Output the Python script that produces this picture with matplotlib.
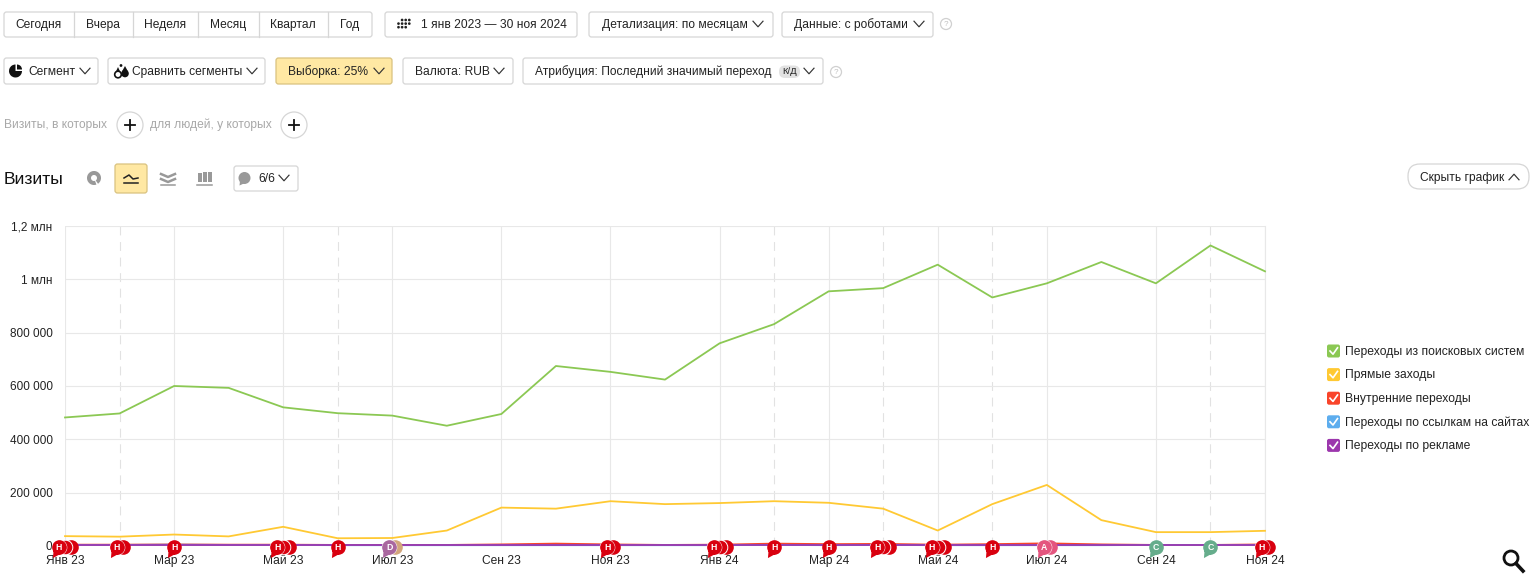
import numpy as np
import matplotlib
matplotlib.use('Agg')
import matplotlib.pyplot as plt
from matplotlib.patches import FancyBboxPatch, Circle, Wedge, Rectangle, Polygon
from matplotlib.path import Path
from matplotlib.markers import MarkerStyle
from matplotlib.transforms import offset_copy

plt.rcParams['font.family'] = ['Liberation Sans', 'DejaVu Sans']

months = ['Янв 23', 'Фев 23', 'Мар 23', 'Апр 23', 'Май 23', 'Июн 23', 'Июл 23', 'Авг 23',
          'Сен 23', 'Окт 23', 'Ноя 23', 'Дек 23', 'Янв 24', 'Фев 24', 'Мар 24', 'Апр 24',
          'Май 24', 'Июн 24', 'Июл 24', 'Авг 24', 'Сен 24', 'Окт 24', 'Ноя 24']
search = [482000, 497000, 600000, 593000, 520000, 498000, 489000, 451000, 495000, 675000, 653000, 624000,
          760000, 832000, 955000, 967000, 1055000, 932000, 985000, 1065000, 985000, 1127000, 1030000]
direct = [37000, 35000, 43000, 36000, 72000, 29000, 30000, 58000, 144000, 140000, 168000, 157000,
          161000, 168000, 162000, 140000, 58000, 157000, 229000, 97000, 52000, 52000, 57000]
internal = [5000, 5000, 6000, 5000, 5000, 4000, 4000, 4000, 6000, 9000, 6000, 4000,
            5000, 9000, 7000, 8000, 5000, 7000, 10000, 6000, 4000, 4000, 6000]
links = [4000, 4000, 5000, 4000, 4000, 3000, 3000, 3000, 3000, 3000, 3000, 3000,
         3000, 4000, 3000, 4000, 3000, 3000, 3000, 3000, 4000, 4000, 4000]
ads = [2000, 2000, 2000, 2000, 2000, 2000, 2000, 2000, 2000, 2000, 2000, 2000,
       2000, 2000, 2000, 2000, 2000, 2000, 2000, 2000, 2000, 2000, 2000]
series_names = ['Переходы из поисковых систем', 'Прямые заходы', 'Внутренние переходы',
                'Переходы по ссылкам на сайтах', 'Переходы по рекламе']
series_colors = ['#8bc853', '#ffc933', '#f9442a', '#5dadee', '#9c37ad']
y_ticks = [0, 200000, 400000, 600000, 800000, 1000000, 1200000]
y_labels = ['0', '200 000', '400 000', '600 000', '800 000', '1 млн', '1,2 млн']
solid_grid = [0, 2, 4, 6, 8, 10, 12, 14, 16, 18, 20, 22]
dashed_grid = [1, 5, 13, 15, 17, 21]
# month, letter, how many stacked, colour of the front one, colour of the back ones
notes = [(0, 'Н', 3, '#d9000f', '#d9000f'), (1, 'Н', 2, '#d9000f', '#d9000f'), (2, 'Н', 1, '#d9000f', '#d9000f'),
         (4, 'Н', 3, '#d9000f', '#d9000f'), (5, 'Н', 1, '#d9000f', '#d9000f'), (6, 'D', 2, '#a9679f', '#d3a67c'),
         (10, 'Н', 2, '#d9000f', '#d9000f'), (12, 'Н', 3, '#d9000f', '#d9000f'), (13, 'Н', 1, '#d9000f', '#d9000f'),
         (14, 'Н', 1, '#d9000f', '#d9000f'), (15, 'Н', 3, '#d9000f', '#d9000f'), (16, 'Н', 3, '#d9000f', '#d9000f'),
         (17, 'Н', 1, '#d9000f', '#d9000f'), (18, 'А', 2, '#e4557f', '#e4557f'), (20, 'С', 1, '#66ad8c', '#66ad8c'),
         (21, 'С', 1, '#66ad8c', '#66ad8c'), (22, 'Н', 2, '#d9000f', '#d9000f')]

W, H = 1536, 583
PX = 0.72  # one pixel in points at dpi 100
fig = plt.figure(figsize=(W / 100, H / 100), dpi=100)

# page controls are laid out in screen pixels
ui = fig.add_axes([0, 0, 1, 1])
ui.set_xlim(0, W)
ui.set_ylim(H, 0)
ui.axis('off')


def label(x, y, s, size=12, color='#222222', ha='left', **kw):
    ui.text(x, y + 1, s, fontsize=size * PX, color=color, ha=ha, va='center', **kw)


def button(x0, x1, y0, y1, face='white', edge='#d6d6d6', r=2.5):
    ui.add_patch(FancyBboxPatch((x0 + r, y0 + r), x1 - x0 - 2 * r, y1 - y0 - 2 * r,
                                boxstyle='round,pad=%f,rounding_size=%f' % (r, r),
                                fc=face, ec=edge, lw=0.9))


def chevron(x, y, up=False, w=5):
    d = -2.8 if up else 2.8
    ui.plot([x - w, x, x + w], [y - d, y + d, y - d], color='#333333', lw=0.85)


def help_mark(x, y):
    ui.add_patch(Circle((x, y), 5.5, fc='white', ec='#d0d0d0', lw=0.9))
    label(x, y - 1, '?', size=8, color='#c0c0c0', ha='center')


def plus(x, y):
    ui.add_patch(Circle((x, y), 13, fc='white', ec='#d6d6d6', lw=0.9))
    ui.plot([x - 5, x + 5], [y, y], color='#111111', lw=1.3)
    ui.plot([x, x], [y - 5, y + 5], color='#111111', lw=1.3)


# first row
button(4, 372, 12, 37)
for x in [74, 133, 198, 259, 328]:
    ui.plot([x, x], [12, 37], color='#d6d6d6', lw=0.9)
for x, s in [(39, 'Сегодня'), (103, 'Вчера'), (165, 'Неделя'), (228, 'Месяц'), (293, 'Квартал'), (350, 'Год')]:
    label(x, 24, s, ha='center')
button(385, 577, 12, 37)
for i, j in [(1, 0), (2, 0), (3, 0), (0, 1), (1, 1), (2, 1), (3, 1), (0, 2), (1, 2), (2, 2)]:
    ui.add_patch(Circle((398.5 + i * 3.6, 20 + j * 3.6), 1.35, fc='#222222', ec='none'))
label(421, 24, '1 янв 2023 — 30 ноя 2024')
button(589, 773, 12, 37)
label(602, 24, 'Детализация: по месяцам')
chevron(758, 24)
button(782, 933, 12, 37)
label(794, 24, 'Данные: с роботами')
chevron(919, 24)
help_mark(946, 24)

# second row
button(4, 98, 58, 84)
ui.add_patch(Wedge((15.5, 71), 6.5, 0, 270, fc='#111111', ec='none'))
ui.add_patch(Wedge((17, 69.5), 5, 270, 360, fc='#111111', ec='none'))
label(28, 71, 'Сегмент')
chevron(85, 71)
button(108, 265, 58, 84)
ui.add_patch(Polygon([(115.5, 72.5), (120.5, 72.5), (118, 67)], fc='#111111', ec='none'))
ui.add_patch(Circle((118, 74.5), 3.3, fc='white', ec='#111111', lw=1.2))
ui.add_patch(Polygon([(122, 71.5), (128, 71.5), (125, 66)], fc='#111111', ec='none'))
ui.add_patch(Circle((125, 73.5), 3.8, fc='#111111', ec='none'))
ui.add_patch(Circle((121, 65.5), 1.4, fc='#111111', ec='none'))
label(132, 71, 'Сравнить сегменты')
chevron(252, 71)
button(276, 392, 58, 84, face='#ffe8a3', edge='#d9c27f')
label(288, 71, 'Выборка: 25%')
chevron(379, 71)
button(403, 513, 58, 84)
label(415, 71, 'Валюта: RUB')
chevron(499, 71)
button(523, 823, 58, 84)
label(535, 71, 'Атрибуция: Последний значимый переход')
ui.add_patch(FancyBboxPatch((785, 71.5), 9, 0.5, boxstyle='round,pad=6,rounding_size=6', fc='#e2e2e2', ec='none'))
label(789.5, 71, 'К/Д', size=9.5, ha='center')
chevron(809, 71)
help_mark(836, 72)

# filter row
label(4, 124, 'Визиты, в которых', color='#a8a8a8')
plus(130, 125)
label(150, 124, 'для людей, у которых', color='#a8a8a8')
plus(294, 125)

# chart header
label(4, 178, 'Визиты', size=17.5, color='#111111')
ui.add_patch(Wedge((94, 178), 7, 0, 55, width=4, fc='#999999', ec='none'))
ui.add_patch(Wedge((94, 178), 7, 70, 360, width=4, fc='#999999', ec='none'))
button(115, 147, 164, 193, face='#ffe8a3', edge='#d9c27f')
ui.plot([124, 129, 133, 138], [178, 175, 179, 178], color='#222222', lw=1.1)
ui.plot([124, 138], [183, 183], color='#222222', lw=1.1)
ui.plot([161, 168, 175], [174, 177, 174], color='#999999', lw=1.8)
ui.plot([161, 168, 175], [179, 182, 179], color='#999999', lw=1.8)
ui.plot([161, 175], [185, 185], color='#999999', lw=1.1)
for x, top in [(197.5, 173), (203, 172), (208, 172)]:
    ui.add_patch(Rectangle((x, top), 4, 9.5 - (top - 172), fc='#999999', ec='none'))
ui.plot([197, 212], [184.5, 184.5], color='#999999', lw=1.1)
button(234, 298, 166, 191)
ui.add_patch(Circle((244.5, 178), 6, fc='#999999', ec='none'))
ui.add_patch(Polygon([(240, 181), (245, 183), (239.5, 185.5)], fc='#999999', ec='none'))
label(258, 178, '6/6')
chevron(284, 178)
button(1408, 1529, 164, 189, r=12)
label(1420, 176.5, 'Скрыть график')
chevron(1514, 177, up=True)

# legend
for i, (name, color) in enumerate(zip(series_names, series_colors)):
    y = 351 + i * 23.6
    ui.add_patch(FancyBboxPatch((1327, y - 6.5), 13, 13, boxstyle='round,pad=0,rounding_size=2', fc=color, ec='none'))
    ui.plot([1330, 1333, 1337.5], [y, y + 3.2, y - 3.2], color='white', lw=1.2)
    label(1345, y - 0.5, name, size=12.1)

# magnifier
ui.add_patch(Circle((1511, 558), 7, fc='none', ec='#111111', lw=2.0))
ui.plot([1516, 1523], [563.5, 571], color='#111111', lw=2.6)

# the chart itself
ax = fig.add_axes([65 / W, 1 - 546 / H, 1200 / W, 320 / H])
ax.patch.set_alpha(0)
x = np.arange(len(months))
for i in solid_grid:
    ax.axvline(i, color='#e8e8e8', lw=0.8, zorder=1)
for i in dashed_grid:
    ax.axvline(i, color='#e2e2e2', lw=0.8, ls=(0, (8, 6)), zorder=1)
for v in y_ticks:
    ax.axhline(v, color='#e8e8e8', lw=0.8, zorder=1)
for values, color in zip([search, direct, internal, links, ads], series_colors):
    ax.plot(x, values, color=color, lw=1.3, zorder=3, clip_on=False)
ax.set_xlim(0, len(months) - 1)
ax.set_ylim(0, 1200000)
ax.set_xticks(x[::2])
ax.set_xticklabels(months[::2], fontsize=12 * PX, color='#222222')
ax.set_yticks(y_ticks)
ax.set_yticklabels(y_labels, fontsize=11.7 * PX, color='#222222')
ax.tick_params(length=0)
ax.tick_params(axis='x', pad=6.2)
ax.tick_params(axis='y', pad=9)
for s in ax.spines.values():
    s.set_visible(False)
ax.spines['right'].set_visible(True)
ax.spines['right'].set_color('#e8e8e8')
ax.spines['right'].set_linewidth(0.8)

# note bubbles: the front one has a tail, the ones behind show as crescents
bubble = Path.make_compound_path(Path.circle((0, 0), 1.0),
                                 Path([(-0.9, -1.45), (0.1, -0.9), (-0.8, -0.3), (-0.9, -1.45)], closed=True))
bubble_marker = MarkerStyle(bubble)
R = 7.3
for i, letter, count, front, back in notes:
    left = -(count - 1) * 6 / 2
    for k in range(count - 1, -1, -1):
        z = 5 + (count - k) * 0.1
        tr = offset_copy(ax.transData, fig=fig, x=(left + k * 6) * PX, y=-1 * PX, units='points')
        if k == count - 1 and count > 1:
            ax.plot([i], [0], marker='o', ms=2 * R * PX, mfc=back, mew=0, transform=tr, clip_on=False, zorder=z)
        elif k > 0:
            ax.plot([i], [0], marker='o', ms=2 * R * PX, mfc=back, mec='white', mew=0.7,
                    transform=tr, clip_on=False, zorder=z)
        else:
            if count > 1:
                ax.plot([i], [0], marker='o', ms=2 * R * PX, mfc=front, mec='white', mew=0.7,
                        transform=tr, clip_on=False, zorder=z)
            # marker paths get scaled by their largest vertex, 1.45 here
            ax.plot([i], [0], marker=bubble_marker, ms=2 * R * PX * 1.45, mfc=front, mew=0,
                    transform=tr, clip_on=False, zorder=z + 0.01)
    tr = offset_copy(ax.transData, fig=fig, x=left * PX, y=-1 * PX, units='points')
    ax.text(i, 0, letter, transform=tr, fontsize=6.3, color='white', fontweight='bold',
            ha='center', va='center', zorder=7, clip_on=False)

fig.savefig('out.png', dpi=100, facecolor='white')
